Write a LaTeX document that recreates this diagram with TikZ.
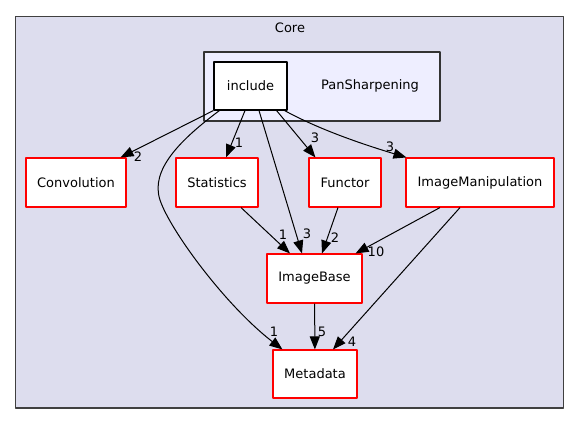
\documentclass[tikz,border=0pt]{standalone}
\usepackage{fontspec}
\setmainfont{DejaVu Sans}
\usetikzlibrary{arrows.meta}
\definecolor{corefill}{HTML}{DDDDEE}
\definecolor{panfill}{HTML}{EEEEFF}
\definecolor{coreline}{HTML}{404040}
\begin{document}
\begin{tikzpicture}[x=1pt, y=-1pt, font=\fontsize{13}{15}\selectfont, line join=round,
    dirbox/.style={draw=red, fill=white, line width=1.1pt, minimum height=49pt, inner sep=0pt},
    inclbox/.style={draw=black, fill=white, line width=1.1pt, minimum width=73pt, minimum height=48pt, inner sep=0pt},
    dep/.style={line width=1pt, -{Triangle[length=13pt,width=10pt]}},
    lbl/.style={inner sep=0pt}]
    \useasboundingbox (0,0) rectangle (580,425);
    % clusters
    \draw[fill=corefill, draw=coreline, line width=1.1pt] (15.5,16.5) rectangle (563.5,408);
    \node (core) at (290,28) {Core};
    \draw[fill=panfill, draw=black!80, line width=1.1pt] (204,52) rectangle (440,121);
    \node (pan) at (370,86) {PanSharpening};
    % directories
    \node[inclbox] (incl) at (250.5,86) {include};
    \node[dirbox, minimum width=100pt] (conv) at (76,182.5) {Convolution};
    \node[dirbox, minimum width=82pt] (stat) at (217,182.5) {Statistics};
    \node[dirbox, minimum width=72pt] (func) at (345,182.5) {Functor};
    \node[dirbox, minimum width=148pt] (imanip) at (480,182.5) {ImageManipulation};
    \node[dirbox, minimum width=95pt] (ibase) at (314.5,278.5) {ImageBase};
    \node[dirbox, minimum width=84pt, minimum height=48pt] (meta) at (315,374) {Metadata};
    % dependencies
    \draw[dep] (incl.south west) -- ([xshift=-6pt]conv.north east);
    \draw[dep] ([xshift=6pt]incl.south west) .. controls (180,140) and (150,170) .. (160,200)
        .. controls (170,230) and (225,305) .. ([xshift=10pt]meta.north west);
    \draw[dep] ([xshift=-5.5pt]incl.south) -- ([xshift=9pt]stat.north);
    \draw[dep] ([xshift=8.5pt]incl.south) -- ([xshift=-12.5pt]ibase.north);
    \draw[dep] ([xshift=-11pt]incl.south east) -- ([xshift=7pt]func.north west);
    \draw[dep] ([xshift=-3pt]incl.south east) .. controls (320,130) and (365,145) .. ([xshift=1pt]imanip.north west);
    \draw[dep] ([xshift=24pt]stat.south) -- ([xshift=-24.5pt]ibase.north);
    \draw[dep] ([xshift=-7pt]func.south) -- ([xshift=7.5pt]ibase.north);
    \draw[dep] ([xshift=-40pt]imanip.south) -- ([xshift=-7pt]ibase.north east);
    \draw[dep] ([xshift=-20pt]imanip.south) -- ([xshift=18pt]meta.north);
    \draw[dep] (ibase) -- (meta);
    % counts
    \foreach \n/\t/\p in {lconv/2/{(138,157)}, lmeta/1/{(274,332)}, lstat/1/{(239,143)},
        libase/3/{(307,234)}, lfunc/3/{(315,138)}, limanip/3/{(390,147)},
        lstatib/1/{(283,235)}, lfuncib/2/{(335,238)}, limib/10/{(376,252)},
        limmeta/4/{(352,342)}, libmeta/5/{(322,332)}}
    \node[lbl] (\n) at \p {\t};
\end{tikzpicture}
\end{document}
